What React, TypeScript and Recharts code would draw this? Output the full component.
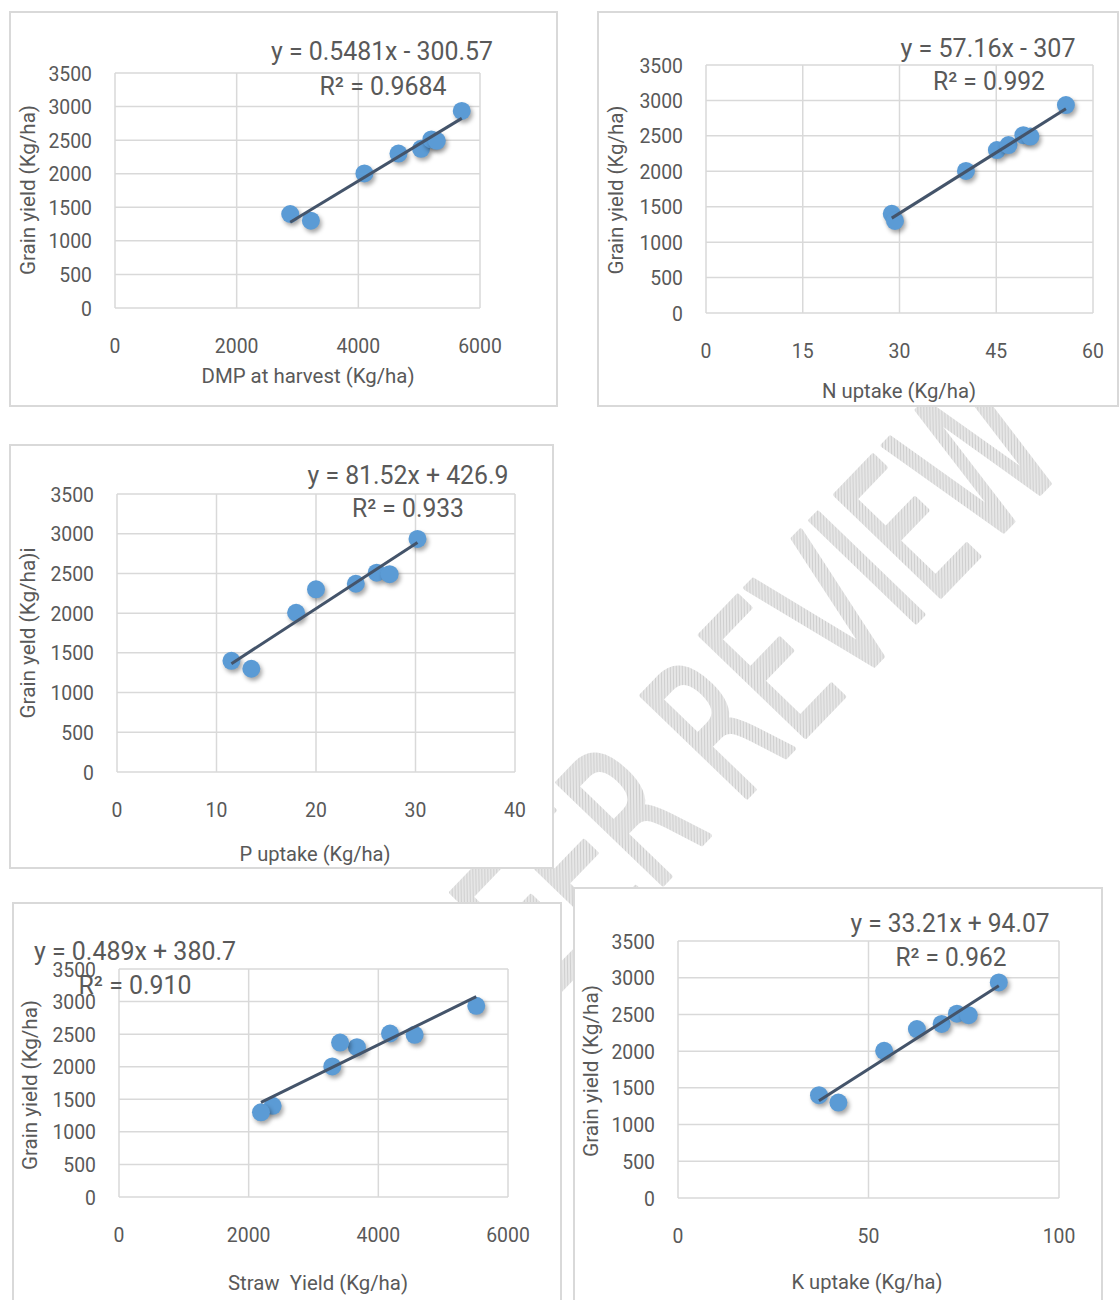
import React from "react";
import { ScatterChart, Scatter, XAxis, YAxis, CartesianGrid } from "recharts";

// ---------- data ----------
const grainYield = [1400, 1300, 2005, 2300, 2370, 2510, 2490, 2935];

const dmpHarvest = [2880, 3220, 4100, 4660, 5030, 5200, 5290, 5700];
const nUptake = [28.8, 29.3, 40.3, 45.1, 46.9, 49.2, 50.3, 55.8];
const pUptake = [11.5, 13.5, 18.0, 20.0, 24.0, 26.1, 27.4, 30.2];
const strawYield = [2370, 2190, 3290, 3670, 3410, 4180, 4560, 5510];
const kUptake = [37.0, 42.1, 54.1, 62.7, 69.2, 73.2, 76.3, 84.2];

// trendline end points (as drawn)
const trendDmp = [{ x: 2880, y: 1278 }, { x: 5700, y: 2824 }];
const trendN = [{ x: 28.8, y: 1339 }, { x: 55.8, y: 2882 }];
const trendP = [{ x: 11.5, y: 1364 }, { x: 30.2, y: 2889 }];
const trendStraw = [{ x: 2190, y: 1452 }, { x: 5510, y: 3075 }];
const trendK = [{ x: 37.0, y: 1323 }, { x: 84.2, y: 2890 }];

const yTicks = [0, 500, 1000, 1500, 2000, 2500, 3000, 3500];
const xTicksDmp = [0, 2000, 4000, 6000];
const xTicksN = [0, 15, 30, 45, 60];
const xTicksP = [0, 10, 20, 30, 40];
const xTicksStraw = [0, 2000, 4000, 6000];
const xTicksK = [0, 50, 100];

const pair = (xs: number[], ys: number[]) => xs.map((x, i) => ({ x, y: ys[i] }));

// ---------- styling ----------
const FONT = "Roboto, 'Liberation Sans', sans-serif";
const TXT = "#595959";
const GRID = "#d9d9d9";
const DOT = "#5b9bd5";
const TREND = "#44546a";
const TICK_FS = 21;
const DIGIT_W = 10.9;
const WEIGHT = 400;

type Txt = { t: string; cx: number; cy: number; len: number };
type Cfg = {
  box: { x: number; y: number; w: number; h: number };
  plot: { L: number; R: number; T: number; B: number };
  xDomain: [number, number];
  xTicks: number[];
  points: { x: number; y: number }[];
  trend: { x: number; y: number }[];
  eq: Txt;
  r2: Txt;
  xTitle: Txt;
  yTitle: Txt;
};

const panels: Cfg[] = [
  {
    box: { x: 9, y: 11, w: 549, h: 396 },
    plot: { L: 115, R: 480, T: 73, B: 308 },
    xDomain: [0, 6000],
    xTicks: xTicksDmp,
    points: pair(dmpHarvest, grainYield),
    trend: trendDmp,
    eq: { t: "y = 0.5481x - 300.57", cx: 382, cy: 51, len: 222 },
    r2: { t: "R² = 0.9684", cx: 383, cy: 86, len: 127 },
    xTitle: { t: "DMP at harvest (Kg/ha)", cx: 308, cy: 375, len: 213 },
    yTitle: { t: "Grain yield (Kg/ha)", cx: 27, cy: 190, len: 170 },
  },
  {
    box: { x: 597, y: 11, w: 522, h: 396 },
    plot: { L: 706, R: 1093, T: 65, B: 313 },
    xDomain: [0, 60],
    xTicks: xTicksN,
    points: pair(nUptake, grainYield),
    trend: trendN,
    eq: { t: "y = 57.16x - 307", cx: 988, cy: 48, len: 175 },
    r2: { t: "R² = 0.992", cx: 989, cy: 81, len: 112 },
    xTitle: { t: "N uptake (Kg/ha)", cx: 899, cy: 390, len: 154 },
    yTitle: { t: "Grain yield (Kg/ha)", cx: 615, cy: 190, len: 169 },
  },
  {
    box: { x: 9, y: 444, w: 545, h: 425 },
    plot: { L: 117, R: 515, T: 494, B: 772 },
    xDomain: [0, 40],
    xTicks: xTicksP,
    points: pair(pUptake, grainYield),
    trend: trendP,
    eq: { t: "y = 81.52x + 426.9", cx: 408, cy: 475, len: 201 },
    r2: { t: "R² = 0.933", cx: 408, cy: 508, len: 112 },
    xTitle: { t: "P uptake (Kg/ha)", cx: 315, cy: 853, len: 151 },
    yTitle: { t: "Grain yeld (Kg/ha)i", cx: 27, cy: 633, len: 171 },
  },
  {
    box: { x: 12, y: 902, w: 550, h: 420 },
    plot: { L: 119, R: 508, T: 969, B: 1197 },
    xDomain: [0, 6000],
    xTicks: xTicksStraw,
    points: pair(strawYield, grainYield),
    trend: trendStraw,
    eq: { t: "y = 0.489x + 380.7", cx: 135, cy: 951, len: 202 },
    r2: { t: "R² = 0.910", cx: 135, cy: 985, len: 113 },
    xTitle: { t: "Straw  Yield (Kg/ha)", cx: 318, cy: 1282, len: 180 },
    yTitle: { t: "Grain yield (Kg/ha)", cx: 29, cy: 1085, len: 170 },
  },
  {
    box: { x: 573, y: 887, w: 530, h: 430 },
    plot: { L: 678, R: 1059, T: 941, B: 1198 },
    xDomain: [0, 100],
    xTicks: xTicksK,
    points: pair(kUptake, grainYield),
    trend: trendK,
    eq: { t: "y = 33.21x + 94.07", cx: 950, cy: 923, len: 199 },
    r2: { t: "R² = 0.962", cx: 951, cy: 957, len: 111 },
    xTitle: { t: "K uptake (Kg/ha)", cx: 867, cy: 1281, len: 151 },
    yTitle: { t: "Grain yield (Kg/ha)", cx: 590, cy: 1071, len: 172 },
  },
];

const DotShape = (props: any) => {
  const { cx, cy } = props;
  if (cx == null || cy == null) return <g />;
  return (
    <circle
      cx={cx}
      cy={cy}
      r={9}
      fill={DOT}
      style={{ filter: "drop-shadow(2px 3px 2px rgba(0,0,0,0.35))" }}
    />
  );
};
const NoShape = () => <g />;

const XTick = (props: any) => {
  const { x, y, payload } = props;
  const s = String(payload.value);
  return (
    <text
      x={x}
      y={y}
      dy="0.71em"
      textAnchor="middle"
      fontSize={TICK_FS}
      fontFamily={FONT}
      fontWeight={WEIGHT}
      fill={TXT}
      textLength={s.length * DIGIT_W}
      lengthAdjust="spacingAndGlyphs"
    >
      {s}
    </text>
  );
};

const YTick = (props: any) => {
  const { x, y, payload } = props;
  const s = String(payload.value);
  return (
    <text
      x={x}
      y={y}
      dy="0.36em"
      textAnchor="end"
      fontSize={TICK_FS}
      fontFamily={FONT}
      fontWeight={WEIGHT}
      fill={TXT}
      textLength={s.length * DIGIT_W}
      lengthAdjust="spacingAndGlyphs"
    >
      {s}
    </text>
  );
};

function Panel({ cfg }: { cfg: Cfg }) {
  const { box, plot } = cfg;
  const yW = 60;
  const xH = 40;
  const margin = {
    left: plot.L - box.x - yW,
    top: plot.T - box.y,
    right: box.x + box.w - plot.R,
    bottom: box.y + box.h - plot.B - xH,
  };
  return (
    <div
      style={{
        position: "absolute",
        left: box.x,
        top: box.y,
        width: box.w,
        height: box.h,
        background: "#fff",
        boxShadow: `inset 0 0 0 2px ${GRID}`,
      }}
    >
      <ScatterChart width={box.w} height={box.h} margin={margin}>
        <CartesianGrid stroke={GRID} strokeWidth={1.5} />
        <XAxis
          type="number"
          dataKey="x"
          domain={cfg.xDomain}
          ticks={cfg.xTicks}
          interval={0}
          height={xH}
          axisLine={false}
          tickLine={false}
          tickSize={0}
          tickMargin={30}
          tick={XTick}
        />
        <YAxis
          type="number"
          dataKey="y"
          domain={[0, 3500]}
          ticks={yTicks}
          interval={0}
          width={yW}
          axisLine={false}
          tickLine={false}
          tickSize={0}
          tickMargin={23}
          tick={YTick}
        />
        <Scatter data={cfg.points} shape={DotShape} isAnimationActive={false} />
        <Scatter
          data={cfg.trend}
          shape={NoShape}
          line={{ stroke: TREND, strokeWidth: 3 }}
          isAnimationActive={false}
        />
      </ScatterChart>
    </div>
  );
}

function TextLayer() {
  const mk = (o: Txt, fs: number, key: string, rotate = false) => (
    <text
      key={key}
      x={o.cx}
      y={o.cy + fs * 0.36}
      textAnchor="middle"
      fontSize={fs}
      fontFamily={FONT}
      fontWeight={WEIGHT}
      fill={TXT}
      textLength={o.len}
      lengthAdjust="spacingAndGlyphs"
      style={{ whiteSpace: "pre" }}
      transform={rotate ? `rotate(-90 ${o.cx} ${o.cy})` : undefined}
    >
      {o.t}
    </text>
  );
  return (
    <svg
      width={1120}
      height={1300}
      style={{ position: "absolute", left: 0, top: 0, pointerEvents: "none" }}
    >
      {panels.map((p, i) => (
        <g key={i}>
          {mk(p.eq, 25, "eq")}
          {mk(p.r2, 25, "r2")}
          {mk(p.xTitle, 21, "xt")}
          {mk(p.yTitle, 21, "yt", true)}
        </g>
      ))}
    </svg>
  );
}

function Watermark() {
  // baseline point where "REVIEW" starts
  const bx = 738;
  const by = 806;
  const ang = -46;
  const common = {
    fontSize: 200,
    fontWeight: 400,
    fontFamily: "'DejaVu Sans', sans-serif",
    lengthAdjust: "spacingAndGlyphs" as const,
    fill: "url(#hatch)",
    stroke: "url(#hatch)",
    strokeWidth: 5,
    strokeLinejoin: "round" as const,
  };
  return (
    <svg width={1120} height={1300} style={{ position: "absolute", left: 0, top: 0 }}>
      <defs>
        <pattern
          id="hatch"
          width="3"
          height="3"
          patternUnits="userSpaceOnUse"
          patternTransform="rotate(45)"
        >
          <rect width="3" height="3" fill="#e6e6e6" />
          <line x1="0" y1="0" x2="0" y2="3" stroke="#c6c6c6" strokeWidth="1.4" />
        </pattern>
      </defs>
      <g transform={`rotate(${ang} ${bx} ${by})`}>
        <text x={bx - 37} y={by} textAnchor="end" textLength={310} {...common}>
          PEER
        </text>
        <text x={bx} y={by} textAnchor="start" textLength={475} {...common}>
          REVIEW
        </text>
      </g>
    </svg>
  );
}

export default function App() {
  return (
    <div
      style={{
        position: "absolute",
        left: 0,
        top: 0,
        width: 1120,
        height: 1300,
        overflow: "hidden",
        background: "#fff",
      }}
    >
      <Watermark />
      {panels.map((p, i) => (
        <Panel key={i} cfg={p} />
      ))}
      <TextLayer />
    </div>
  );
}
